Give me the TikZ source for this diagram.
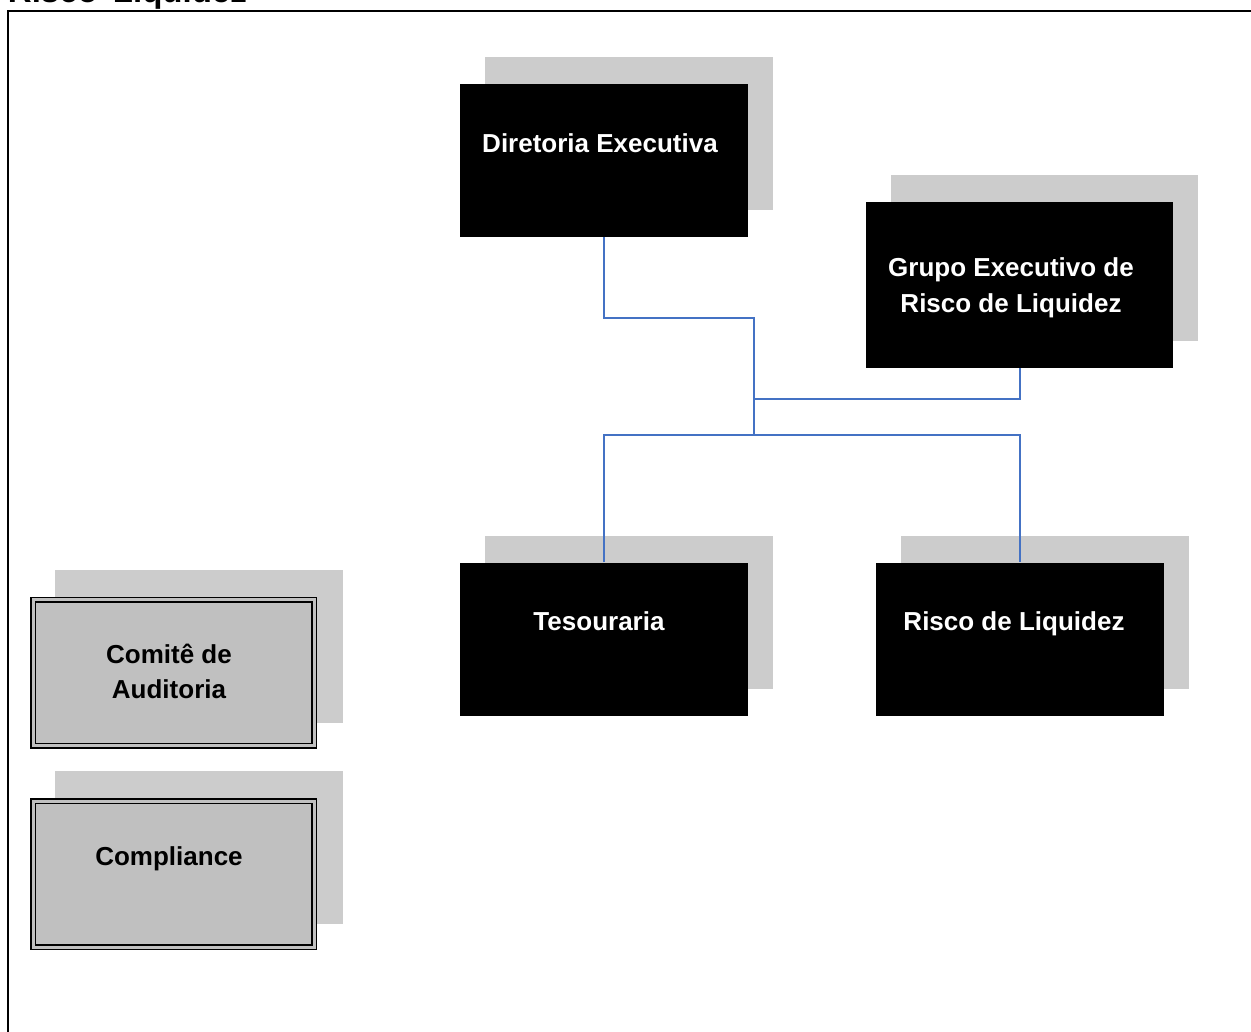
\documentclass[tikz,border=0pt]{standalone}
\usepackage{fontspec}
\setmainfont{Liberation Sans}
\begin{document}
\begin{tikzpicture}[x=1pt,y=-1pt,
  shadowbox/.style={fill=shadowgray, draw=none, inner sep=0pt, minimum width=288pt, minimum height=153pt},
  blackbox/.style={fill=black, draw=none, inner sep=0pt, minimum width=288pt, minimum height=153pt},
  graybox/.style={fill=boxgray, draw=black, line width=1.5pt, double=boxgray, double distance=3pt, inner sep=0pt, minimum width=281pt, minimum height=146pt},
  wtext/.style={text=white, font=\fontsize{26}{36}\selectfont\bfseries, align=center, inner sep=0pt},
  btext/.style={text=black, font=\fontsize{26}{35}\selectfont\bfseries, align=center, inner sep=0pt},
  conn/.style={draw=connblue, line width=2pt}]
\definecolor{shadowgray}{HTML}{CCCCCC}
\definecolor{boxgray}{HTML}{C0C0C0}
\definecolor{connblue}{HTML}{4472C4}
\useasboundingbox (0,0) rectangle (1251,1032);
\clip (0,0) rectangle (1251,1032);
\fill[white] (0,0) rectangle (1251,1032);
% outer frame
\draw[line width=2pt] (8,1060) -- (8,11) -- (1280,11);
\node[anchor=base east, inner sep=0pt, font=\fontsize{33}{36}\selectfont\bfseries] (title) at (247,3) {Risco\hspace{6pt} Liquidez};
% shadows
\node[shadowbox] (dirs) at (629,133.5) {};
\node[shadowbox, minimum width=307pt, minimum height=166pt] (grps) at (1044.5,258) {};
\node[shadowbox] (tess) at (629,612) {};
\node[shadowbox] (riss) at (1045,612) {};
\node[shadowbox] (coms) at (199,646) {};
\node[shadowbox] (cmps) at (199,847.5) {};
% main boxes
\node[blackbox] (dir) at (604,160.5) {};
\node[blackbox, minimum width=307pt, minimum height=166pt] (grp) at (1019.5,285) {};
\node[blackbox] (tes) at (604,639) {};
\node[blackbox] (ris) at (1020,639) {};
\node[graybox] (com) at (173.5,672.5) {};
\node[graybox] (cmp) at (173.5,874) {};
% texts
\node[wtext] (dirt) at (600,143) {Diretoria Executiva};
\node[wtext] (grpt) at (1011,288) {Grupo Executivo de\\Risco de Liquidez};
\node[wtext] (test) at (599,621) {Tesouraria};
\node[wtext] (rist) at (1014,624) {Risco de Liquidez};
\node[btext] (comt) at (169,671.5) {Comitê de\\Auditoria};
\node[btext] (cmpt) at (169,859) {Compliance};
% connectors
\coordinate (j1) at (754,318);
\coordinate (j2) at (754,434.5);
\coordinate (j3) at (754,399);
\draw[conn] (dir.south) |- (j1) -- (j2);
\draw[conn] (grp.south) |- (j3);
\draw[conn] (tes.north) -- (tes.north |- j2) -- (ris.north |- j2) -- (ris.north);
\end{tikzpicture}
\end{document}
